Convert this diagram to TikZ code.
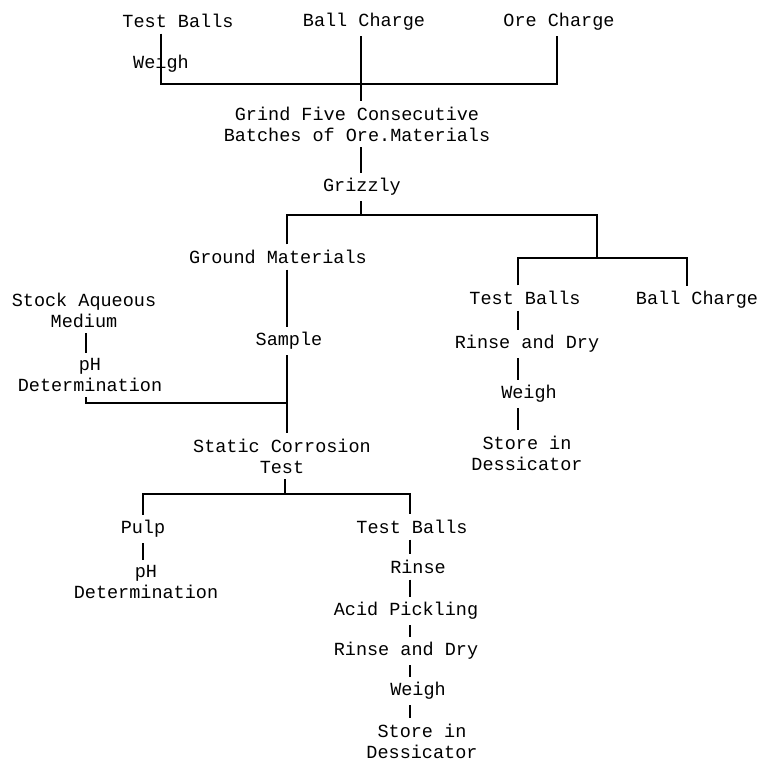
\documentclass[tikz,border=0pt]{standalone}
\usepackage{fontspec}
\newfontfamily\flowfont{Liberation Mono}
\begin{document}
\begin{tikzpicture}[x=1pt,y=-1pt,line width=1.5pt,
        lbl/.style={font=\flowfont\fontsize{18.5}{21}\selectfont,inner sep=5pt,align=center}]
    \useasboundingbox (0,0) rectangle (762,762);
    %% columns and junctions of the connectors
    \foreach \n/\x in {xOre/557,xGm/287,xSt/86,xB/518,xBc/687,xPulp/143,xC/410}
        \coordinate (\n) at (\x,0);
    \coordinate (jTop) at (361,84);
    \coordinate (jSplit) at (361,215);
    \coordinate (jRight) at (597,258);
    \coordinate (jSample) at (286,403);
    \coordinate (jTest) at (285,494);
    %% charge
    \node[lbl] (tbA) at (178,21) {Test Balls};
    \node[lbl] (bcA) at (364,22) {Ball Charge};
    \node[lbl] (ocA) at (559,22) {Ore Charge};
    \node[lbl] (wgA) at (161,64) {Weigh};
    \node[lbl] (grind) at (357,124) {Grind Five Consecutive\\Batches of Ore.Materials};
    \node[lbl] (grz) at (362,187) {Grizzly};
    %% ground materials
    \node[lbl] (gm) at (278,257) {Ground Materials};
    \node[lbl] (stock) at (84,310) {Stock Aqueous\\Medium};
    \node[lbl] (sam) at (289,341) {Sample};
    \node[lbl] (phA) at (90,375) {pH\\Determination};
    %% balls after grinding
    \node[lbl] (tbB) at (525,298) {Test Balls};
    \node[lbl] (bcB) at (697,300) {Ball Charge};
    \node[lbl] (rdB) at (527,344) {Rinse and Dry};
    \node[lbl] (wgB) at (529,394) {Weigh};
    \node[lbl] (stB) at (527,453) {Store in\\Dessicator};
    %% corrosion test
    \node[lbl] (sct) at (282,456) {Static Corrosion\\Test};
    \node[lbl] (pulp) at (143,529) {Pulp};
    \node[lbl] (phB) at (146,582) {pH\\Determination};
    \node[lbl] (tbC) at (412,527) {Test Balls};
    \node[lbl] (rin) at (418,567) {Rinse};
    \node[lbl] (acid) at (406,611) {Acid Pickling};
    \node[lbl] (rdC) at (406,651) {Rinse and Dry};
    \node[lbl] (wgC) at (418,691) {Weigh};
    \node[lbl] (stC) at (422,741) {Store in\\Dessicator};
    %% connectors
    \draw (tbA.south -| wgA) |- (jTop) -| (xOre |- ocA.south);
    \draw (bcA.south -| jTop) -- (grind.north -| jTop);
    \draw (grind.south -| jTop) -- (grz.north -| jTop);
    \draw (grz.south -| jSplit) -- (jSplit);
    \draw (xGm |- gm.north) |- (jSplit) -| (jRight);
    \draw (xB |- tbB.north) |- (jRight) -| (xBc |- bcB.north);
    \foreach \a/\b in {tbB/rdB,rdB/wgB,wgB/stB}
        \draw (xB |- \a.south) -- (xB |- \b.north);
    \draw (xGm |- gm.south) -- (xGm |- sam.north);
    \draw (xGm |- sam.south) -- (xGm |- sct.north);
    \draw (xSt |- stock.south) -- (xSt |- phA.north);
    \draw (xSt |- phA.south) |- (jSample);
    \draw (sct.south -| jTest) -- (jTest);
    \draw (xPulp |- pulp.north) |- (jTest) -| (xC |- tbC.north);
    \draw (xPulp |- pulp.south) -- (xPulp |- phB.north);
    \foreach \a/\b in {tbC/rin,rin/acid,acid/rdC,rdC/wgC,wgC/stC}
        \draw (xC |- \a.south) -- (xC |- \b.north);
\end{tikzpicture}
\end{document}
